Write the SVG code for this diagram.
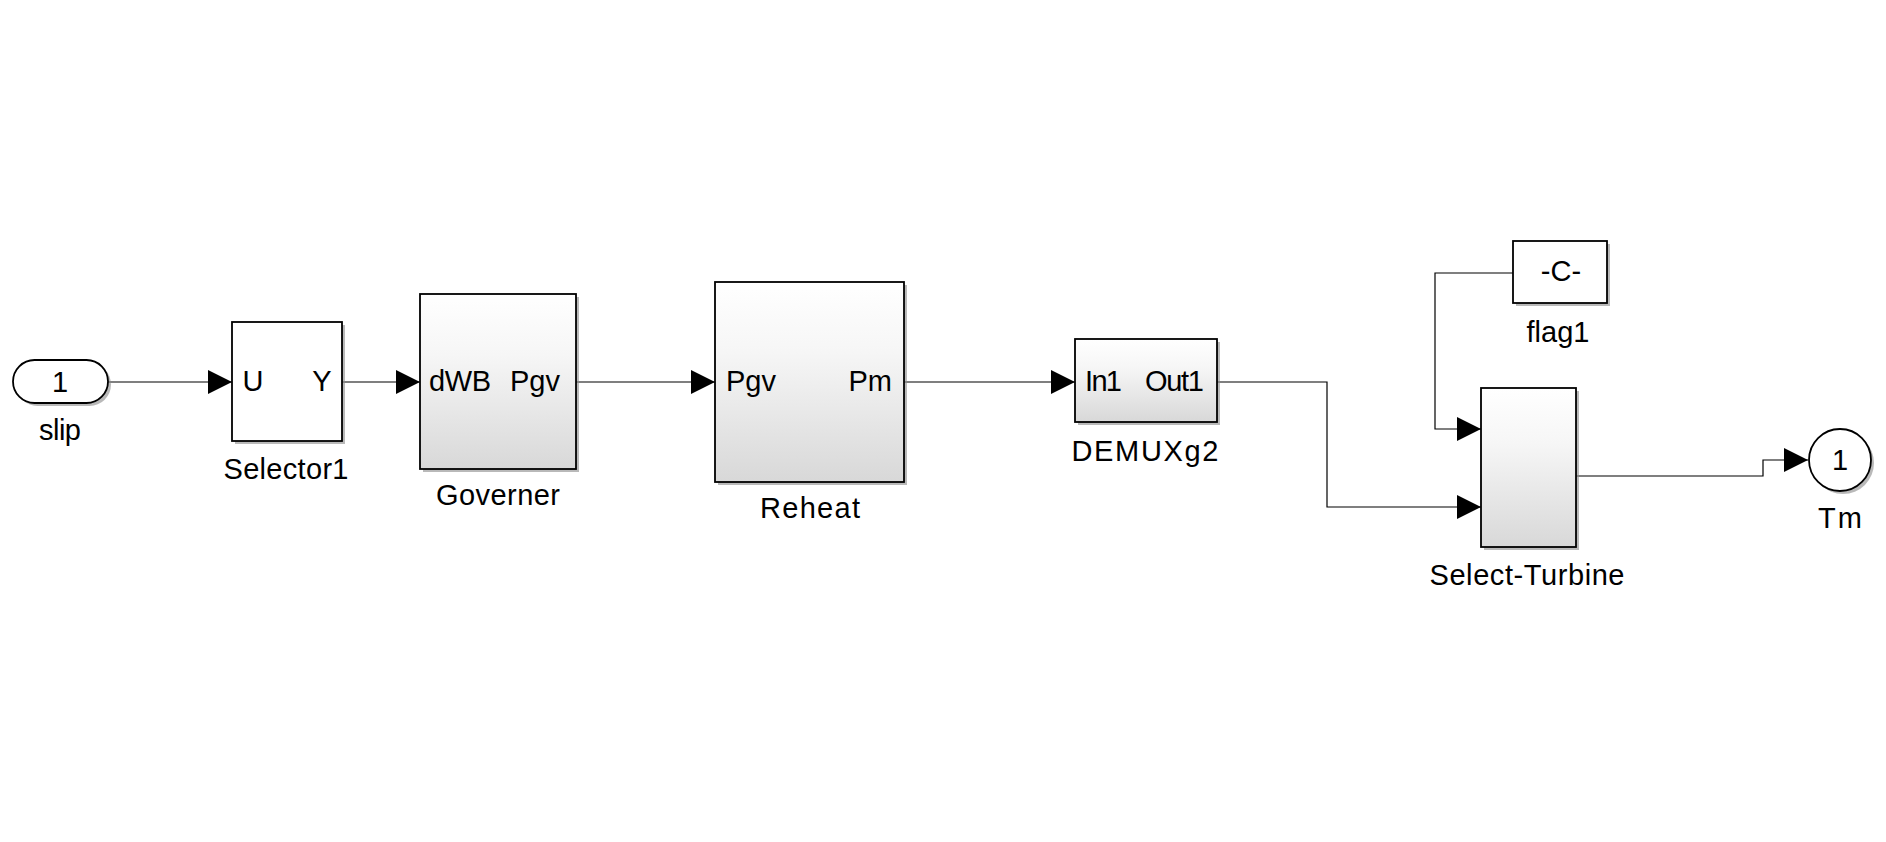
<svg xmlns="http://www.w3.org/2000/svg" width="1886" height="842" viewBox="0 0 1886 842">
<style>
text{font-family:"Liberation Sans",Arial,sans-serif;font-size:29px;fill:#000}
.blk{stroke:#000;stroke-width:1.8}
.w{fill:#fff}
.g{fill:url(#grad)}
.sh{fill:#8a8a8a;opacity:0.6}
.ln{fill:none;stroke:#000;stroke-width:1.2}
.mid{text-anchor:middle}
.end{text-anchor:end}
</style>
<defs>
<linearGradient id="grad" x1="0" y1="0" x2="0" y2="1">
<stop offset="0" stop-color="#ffffff"/>
<stop offset="0.35" stop-color="#f6f6f6"/>
<stop offset="1" stop-color="#d8d8d8"/>
</linearGradient>
<marker id="arr" markerUnits="userSpaceOnUse" markerWidth="24" markerHeight="24" refX="24" refY="12" orient="auto" viewBox="0 0 24 24">
<path d="M0,0 L24,12 L0,24 Z" fill="#000"/>
</marker>
</defs>
<rect width="1886" height="842" fill="#fff"/>

<g id="connectors">
<path class="ln" d="M108,382 H232" marker-end="url(#arr)"/>
<path class="ln" d="M342,382 H420" marker-end="url(#arr)"/>
<path class="ln" d="M576,382 H715" marker-end="url(#arr)"/>
<path class="ln" d="M904,382 H1075" marker-end="url(#arr)"/>
<path class="ln" d="M1217,382 H1327 V507 H1481" marker-end="url(#arr)"/>
<path class="ln" d="M1513,273 H1435 V429 H1481" marker-end="url(#arr)"/>
<path class="ln" d="M1576,476 H1763 V460 H1808" marker-end="url(#arr)"/>
</g>

<g id="slip">
<rect class="sh" x="16" y="363" width="95" height="43" rx="21.5"/>
<rect class="blk w" x="13" y="360" width="95" height="43" rx="21.5"/>
<text class="mid" x="60" y="392">1</text>
<text class="mid" x="60" y="440" textLength="42">slip</text>
</g>

<g id="Selector1">
<rect class="sh" x="235" y="325" width="110" height="119"/>
<rect class="blk w" x="232" y="322" width="110" height="119"/>
<text class="mid" x="253" y="391">U</text>
<text class="mid" x="322" y="391">Y</text>
<text class="mid" x="286" y="479" textLength="125">Selector1</text>
</g>

<g id="Governer">
<rect class="sh" x="423" y="297" width="156" height="175"/>
<rect class="blk g" x="420" y="294" width="156" height="175"/>
<text x="429" y="391" textLength="62">dWB</text>
<text class="end" x="560" y="391">Pgv</text>
<text class="mid" x="498" y="505" textLength="124">Governer</text>
</g>

<g id="Reheat">
<rect class="sh" x="718" y="285" width="189" height="200"/>
<rect class="blk g" x="715" y="282" width="189" height="200"/>
<text x="726" y="391">Pgv</text>
<text class="end" x="892" y="391">Pm</text>
<text class="mid" x="810" y="518" textLength="100">Reheat</text>
</g>

<g id="DEMUXg2">
<rect class="sh" x="1078" y="342" width="142" height="83"/>
<rect class="blk g" x="1075" y="339" width="142" height="83"/>
<text x="1085" y="391" textLength="37">In1</text>
<text class="end" x="1204" y="391" textLength="59">Out1</text>
<text class="mid" x="1145" y="461" textLength="147">DEMUXg2</text>
</g>

<g id="flag1">
<rect class="sh" x="1516" y="244" width="94" height="62"/>
<rect class="blk w" x="1513" y="241" width="94" height="62"/>
<text class="mid" x="1561" y="281">-C-</text>
<text class="mid" x="1558" y="342" textLength="63">flag1</text>
</g>

<g id="Select-Turbine">
<rect class="sh" x="1484" y="391" width="95" height="159"/>
<rect class="blk g" x="1481" y="388" width="95" height="159"/>
<text class="mid" x="1527" y="585" textLength="195">Select-Turbine</text>
</g>

<g id="Tm">
<circle class="sh" cx="1843" cy="463" r="31"/>
<circle class="blk w" cx="1840" cy="460" r="31"/>
<text class="mid" x="1840" y="470">1</text>
<text class="mid" x="1840" y="528" textLength="44">Tm</text>
</g>
</svg>
